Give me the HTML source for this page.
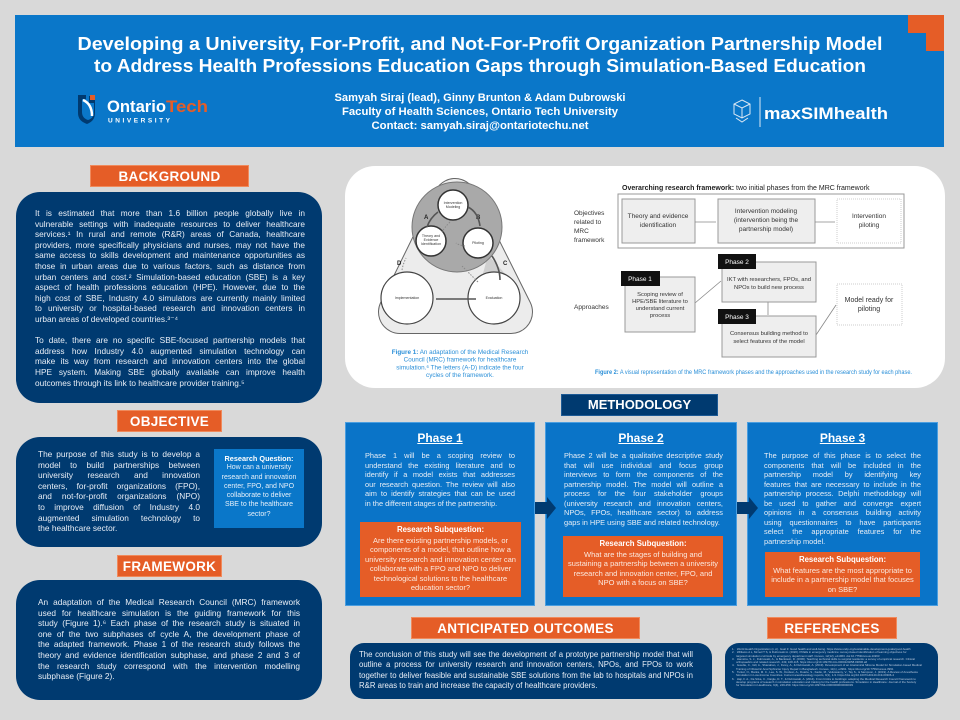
<!DOCTYPE html>
<html><head><meta charset="utf-8">
<style>
*{margin:0;padding:0;box-sizing:border-box}
body{width:960px;height:720px;background:#d9d9d9;position:relative;overflow:hidden;font-family:"Liberation Sans",sans-serif;color:#fff}
.a{position:absolute}
.hdr{left:15px;top:15px;width:929px;height:132px;background:#0a77c9}
.lab{background:#e55d27;color:#fff;font-weight:bold;text-align:center;font-size:13.5px;line-height:22px;letter-spacing:.3px;border:1px solid #f08a5c}
.nav{background:#003a70;border-radius:24px}
.t{position:absolute;font-size:8.3px;line-height:10.6px;color:#e8eef6}
.t div{height:10.6px;overflow:hidden;text-align:justify;text-align-last:justify}
.t div.e{text-align-last:left}
.ph{background:#0a74c8;border:1px solid #4a9ee0}
.ph h3{text-align:center;font-size:12px;text-decoration:underline;margin-top:8px;line-height:14px}
.pt{position:absolute;font-size:7.4px;line-height:9.5px;color:#e8eef6}
.pt div{height:9.5px;overflow:hidden;text-align:justify;text-align-last:justify}
.pt div.e{text-align-last:left}
.sq{position:absolute;background:#e55d27;text-align:center;font-size:7.5px;line-height:9.5px;color:#fbe9df}
.sq b{display:block;color:#fff;font-size:7.8px;margin:3px 0 1px}
</style></head><body>
<div class="a hdr"></div>
<div class="a" style="left:908px;top:15px;width:36px;height:18px;background:#e55d27"></div>
<div class="a" style="left:926px;top:33px;width:18px;height:18px;background:#e55d27"></div>
<svg class="a" style="left:0;top:0" width="960" height="150">
<text x="480" y="50" text-anchor="middle" font-family="Liberation Sans" font-weight="bold" font-size="18.5" fill="#fff" textLength="805" lengthAdjust="spacingAndGlyphs">Developing a University, For-Profit, and Not-For-Profit Organization Partnership Model</text>
<text x="480" y="72" text-anchor="middle" font-family="Liberation Sans" font-weight="bold" font-size="18.5" fill="#fff" textLength="772" lengthAdjust="spacingAndGlyphs">to Address Health Professions Education Gaps through Simulation-Based Education</text>
<text x="480" y="101" text-anchor="middle" font-family="Liberation Sans" font-weight="bold" font-size="11" fill="#fff" textLength="291" lengthAdjust="spacingAndGlyphs">Samyah Siraj (lead), Ginny Brunton &amp; Adam Dubrowski</text>
<text x="480" y="115" text-anchor="middle" font-family="Liberation Sans" font-weight="bold" font-size="11" fill="#fff" textLength="276" lengthAdjust="spacingAndGlyphs">Faculty of Health Sciences, Ontario Tech University</text>
<text x="480" y="129" text-anchor="middle" font-family="Liberation Sans" font-weight="bold" font-size="11" fill="#fff" textLength="217" lengthAdjust="spacingAndGlyphs">Contact: samyah.siraj@ontariotechu.net</text>
<path d="M78 95 H86 V99 H82 V112 Q82 118 88 120 Q94 118 94 112 V103 H89 V96 H95 V113 Q95 121 87 124 Q78 121 78 113Z" fill="#003a70"/>
<path d="M83 100 Q92 104 92 116" stroke="#fff" stroke-width="2.5" fill="none"/>
<rect x="90" y="95" width="5" height="5" fill="#e55d27"/>
<text x="107" y="112" font-family="Liberation Sans" font-weight="bold" font-size="17" fill="#fff" textLength="59" lengthAdjust="spacingAndGlyphs">Ontario</text>
<text x="166" y="112" font-family="Liberation Sans" font-weight="bold" font-size="17" fill="#e55d27" textLength="42" lengthAdjust="spacingAndGlyphs">Tech</text>
<text x="108" y="122.5" font-family="Liberation Sans" font-weight="bold" font-size="6.5" fill="#fff" textLength="62" lengthAdjust="spacing">UNIVERSITY</text>
<g stroke="#dce8f5" stroke-width="1" fill="none"><path d="M742 100 L750 104 L750 114 L742 118 L734 114 L734 104Z"/><path d="M734 104 L742 108 L750 104 M742 108 V118"/><path d="M736 118 L742 122 L748 118"/></g>
<line x1="760" y1="97" x2="760" y2="127" stroke="#dce8f5" stroke-width="1"/>
<text x="764" y="119" font-family="Liberation Sans" font-weight="bold" font-size="17" fill="#fff" textLength="124" lengthAdjust="spacingAndGlyphs">maxSIMhealth</text>
</svg>

<!-- BACKGROUND -->
<div class="a lab" style="left:90px;top:165px;width:159px;height:22px">BACKGROUND</div>
<div class="a nav" style="left:16px;top:192px;width:306px;height:211px"></div>
<div class="t" style="left:35px;top:208px;width:270px">
<div>It is estimated that more than 1.6 billion people globally live in</div>
<div>vulnerable settings with inadequate resources to deliver healthcare</div>
<div>services.¹ In rural and remote (R&amp;R) areas of Canada, healthcare</div>
<div>providers, more specifically physicians and nurses, may not have the</div>
<div>same access to skills development and maintenance opportunities as</div>
<div>those in urban areas due to various factors, such as distance from</div>
<div>urban centers and cost.² Simulation-based education (SBE) is a key</div>
<div>aspect of health professions education (HPE). However, due to the</div>
<div>high cost of SBE, Industry 4.0 simulators are currently mainly limited</div>
<div>to university or hospital-based research and innovation centers in</div>
<div class="e">urban areas of developed countries.³⁻⁴</div>
<div class="e"></div>
<div>To date, there are no specific SBE-focused partnership models that</div>
<div>address how Industry 4.0 augmented simulation technology can</div>
<div>make its way from research and innovation centers into the global</div>
<div>HPE system. Making SBE globally available can improve health</div>
<div class="e">outcomes through its link to healthcare provider training.⁵</div>
</div>

<!-- OBJECTIVE -->
<div class="a lab" style="left:117px;top:410px;width:105px;height:22px">OBJECTIVE</div>
<div class="a nav" style="left:16px;top:437px;width:306px;height:110px"></div>
<div class="t" style="left:38px;top:449px;width:162px">
<div>The purpose of this study is to develop a</div>
<div>model to build partnerships between</div>
<div>university research and innovation</div>
<div>centers, for-profit organizations (FPO),</div>
<div>and not-for-profit organizations (NPO)</div>
<div>to improve diffusion of Industry 4.0</div>
<div>augmented simulation technology to</div>
<div class="e">the healthcare sector.</div>
</div>
<div class="a" style="left:214px;top:449px;width:90px;height:79px;background:#0a77c9;text-align:center;font-size:7px;line-height:9.3px;color:#e6f0fa">
<div style="font-weight:bold;color:#fff;margin-top:5px;font-size:7.3px">Research Question:</div>
How can a university<br>research and innovation<br>center, FPO, and NPO<br>collaborate to deliver<br>SBE to the healthcare<br>sector?</div>

<!-- FRAMEWORK -->
<div class="a lab" style="left:117px;top:555px;width:105px;height:22px">FRAMEWORK</div>
<div class="a nav" style="left:16px;top:580px;width:306px;height:120px"></div>
<div class="t" style="left:38px;top:597px;width:262px">
<div>An adaptation of the Medical Research Council (MRC) framework</div>
<div>used for healthcare simulation is the guiding framework for this</div>
<div>study (Figure 1).⁶ Each phase of the research study is situated in</div>
<div>one of the two subphases of cycle A, the development phase of</div>
<div>the adapted framework. Phase 1 of the research study follows the</div>
<div>theory and evidence identification subphase, and phase 2 and 3 of</div>
<div>the research study correspond with the intervention modelling</div>
<div class="e">subphase (Figure 2).</div>
</div>

<!-- FIGURE PANEL -->
<div class="a" style="left:345px;top:166px;width:600px;height:222px;background:#fff;border-radius:30px"></div>
<svg class="a" style="left:0;top:0" width="960" height="400" font-family="Liberation Sans">
<polygon points="455,200 400,312 511,312" fill="#ececec" stroke="#666" stroke-width="44" stroke-linejoin="round"/>
<polygon points="455,200 400,312 511,312" fill="#ececec" stroke="#ececec" stroke-width="42" stroke-linejoin="round"/>
<polygon points="488,255 520,290 478,292" fill="#cfcfcf"/>
<circle cx="457" cy="227" r="45" fill="#a9a9a9" stroke="#777" stroke-width="1"/>
<circle cx="407" cy="298" r="26" fill="#fff" stroke="#444" stroke-width="1.2"/>
<circle cx="494" cy="298" r="26" fill="#fff" stroke="#444" stroke-width="1.2"/>
<circle cx="453" cy="205" r="15" fill="#fff" stroke="#333" stroke-width="1.5"/>
<circle cx="431" cy="241" r="15" fill="#fff" stroke="#333" stroke-width="1.5"/>
<circle cx="478" cy="243" r="15" fill="#fff" stroke="#333" stroke-width="1.5"/>
<g font-size="3.6" fill="#333" text-anchor="middle">
<text x="453" y="204">Intervention</text><text x="453" y="208">Modeling</text>
<text x="431" y="237">Theory and</text><text x="431" y="241">Evidence</text><text x="431" y="245">Identification</text>
<text x="478" y="244">Piloting</text>
<text x="407" y="299">Implementation</text><text x="494" y="299">Evaluation</text>
</g>
<g font-size="6" font-weight="bold" fill="#222"><text x="424" y="219">A</text><text x="476" y="219">B</text><text x="503" y="265">C</text><text x="397" y="265">D</text></g>
<g fill="none" stroke="#555" stroke-width="1.6"><path d="M468 207 Q478 212 480 226"/><path d="M492 256 Q500 268 500 280"/><path d="M476 299 L436 299"/><path d="M427 227 Q430 218 438 212"/></g>
<g fill="none" stroke="#888" stroke-width="1" stroke-dasharray="1.5,1.5"><path d="M450 222 Q444 228 442 232"/><path d="M465 246 Q458 245 456 243"/><path d="M478 282 Q468 272 462 266"/><path d="M402 270 Q403 264 406 258"/></g>
<g font-size="6.3" fill="#2a8fd8" text-anchor="middle">
<text x="460" y="354"><tspan font-weight="bold">Figure 1:</tspan> An adaptation of the Medical Research</text>
<text x="460" y="361.7">Council (MRC) framework for healthcare</text>
<text x="460" y="369.4">simulation.⁶ The letters (A-D) indicate the four</text>
<text x="460" y="377.1">cycles of the framework.</text>
</g>
<!-- figure 2 -->
<text x="622" y="190" font-size="7" fill="#222"><tspan font-weight="bold">Overarching research framework:</tspan> two initial phases from the MRC framework</text>
<rect x="618" y="194" width="286" height="54" fill="#fff" stroke="#999" stroke-width="1"/>
<rect x="622" y="199" width="73" height="44" fill="#eee" stroke="#999"/>
<rect x="718" y="199" width="97" height="44" fill="#eee" stroke="#999"/>
<rect x="837" y="199" width="64" height="44" fill="#fff" stroke="#ccc" stroke-dasharray="1,1"/>
<g stroke="#888" stroke-width=".8" fill="#888"><line x1="695" y1="222" x2="716" y2="222"/><line x1="815" y1="222" x2="835" y2="222"/>
<line x1="695" y1="303" x2="721" y2="281"/><line x1="768" y1="302" x2="768" y2="315"/><line x1="816" y1="335" x2="836" y2="305"/></g>
<g font-size="6.5" fill="#333" text-anchor="middle">
<text x="658" y="218">Theory and evidence</text><text x="658" y="227">identification</text>
<text x="766" y="213">Intervention modeling</text><text x="766" y="222">(intervention being the</text><text x="766" y="231">partnership model)</text>
<text x="869" y="218">Intervention</text><text x="869" y="227">piloting</text>
</g>
<g font-size="6.5" fill="#333"><text x="574" y="215">Objectives</text><text x="574" y="224">related to</text><text x="574" y="233">MRC</text><text x="574" y="242">framework</text><text x="574" y="309">Approaches</text></g>
<rect x="625" y="277" width="70" height="55" fill="#eee" stroke="#999"/>
<rect x="722" y="262" width="94" height="40" fill="#eee" stroke="#999"/>
<rect x="722" y="316" width="94" height="41" fill="#eee" stroke="#999"/>
<rect x="837" y="284" width="65" height="41" fill="#fff" stroke="#ccc" stroke-dasharray="1,1"/>
<rect x="621" y="271" width="39" height="15" fill="#111"/><rect x="718" y="254" width="38" height="15" fill="#111"/><rect x="718" y="309" width="38" height="15" fill="#111"/>
<g font-size="6.5" fill="#fff" text-anchor="middle"><text x="640" y="281">Phase 1</text><text x="737" y="264">Phase 2</text><text x="737" y="319">Phase 3</text></g>
<g font-size="5.8" fill="#333" text-anchor="middle">
<text x="660" y="296">Scoping review of</text><text x="660" y="303">HPE/SBE literature to</text><text x="660" y="310">understand current</text><text x="660" y="317">process</text>
<text x="769" y="281">IKT with researchers, FPOs, and</text><text x="769" y="289">NPOs to build new process</text>
<text x="769" y="335">Consensus building method to</text><text x="769" y="343">select features of the model</text>
</g>
<g font-size="7" fill="#333" text-anchor="middle"><text x="869" y="302">Model ready for</text><text x="869" y="311">piloting</text></g>
<text x="595" y="374" font-size="6.1" fill="#2a8fd8" textLength="317" lengthAdjust="spacingAndGlyphs"><tspan font-weight="bold">Figure 2:</tspan> A visual representation of the MRC framework phases and the approaches used in the research study for each phase.</text>
</svg>

<!-- METHODOLOGY -->
<div class="a" style="left:561px;top:394px;width:157px;height:22px;background:#003a70;border:1px solid #1d5a95;text-align:center;font-weight:bold;font-size:13px;line-height:20px">METHODOLOGY</div>
<div class="a ph" style="left:345px;top:422px;width:190px;height:184px"><h3>Phase 1</h3></div>
<div class="a ph" style="left:545px;top:422px;width:192px;height:184px"><h3>Phase 2</h3></div>
<div class="a ph" style="left:747px;top:422px;width:191px;height:184px"><h3>Phase 3</h3></div>
<svg class="a" style="left:0;top:0" width="960" height="720">
<polygon points="535,502 547,502 547,497 556,508 547,519 547,514 535,514" fill="#003a70"/>
<polygon points="737,502 749,502 749,497 758,508 749,519 749,514 737,514" fill="#003a70"/>
</svg>
<div class="pt" style="left:365px;top:451px;width:150px">
<div>Phase 1 will be a scoping review to</div>
<div>understand the existing literature and to</div>
<div>identify if a model exists that addresses</div>
<div>our research question. The review will also</div>
<div>aim to identify strategies that can be used</div>
<div class="e">in the different stages of the partnership.</div>
</div>
<div class="pt" style="left:564px;top:451px;width:159px">
<div>Phase 2 will be a qualitative descriptive study</div>
<div>that will use individual and focus group</div>
<div>interviews to form the components of the</div>
<div>partnership model. The model will outline a</div>
<div>process for the four stakeholder groups</div>
<div>(university research and innovation centers,</div>
<div>NPOs, FPOs, healthcare sector) to address</div>
<div class="e">gaps in HPE using SBE and related technology.</div>
</div>
<div class="pt" style="left:764px;top:451px;width:157px">
<div>The purpose of this phase is to select the</div>
<div>components that will be included in the</div>
<div>partnership model by identifying key</div>
<div>features that are necessary to include in the</div>
<div>partnership process. Delphi methodology will</div>
<div>be used to gather and converge expert</div>
<div>opinions in a consensus building activity</div>
<div>using questionnaires to have participants</div>
<div>select the appropriate features for the</div>
<div class="e">partnership model.</div>
</div>
<div class="sq" style="left:360px;top:522px;width:161px;height:75px"><b>Research Subquestion:</b>Are there existing partnership models, or<br>components of a model, that outline how a<br>university research and innovation center can<br>collaborate with a FPO and NPO to deliver<br>technological solutions to the healthcare<br>education sector?</div>
<div class="sq" style="left:563px;top:536px;width:160px;height:61px"><b>Research Subquestion:</b>What are the stages of building and<br>sustaining a partnership between a university<br>research and innovation center, FPO, and<br>NPO with a focus on SBE?</div>
<div class="sq" style="left:765px;top:552px;width:155px;height:45px"><b>Research Subquestion:</b>What features are the most appropriate to<br>include in a partnership model that focuses<br>on SBE?</div>

<!-- OUTCOMES -->
<div class="a lab" style="left:411px;top:617px;width:229px;height:22px">ANTICIPATED OUTCOMES</div>
<div class="a nav" style="left:350px;top:643px;width:362px;height:56px;border-radius:14px"></div>
<div class="t" style="left:359px;top:650px;width:334px;font-size:7.8px;line-height:10.3px">
<div style="height:10.3px">The conclusion of this study will see the development of a prototype partnership model that will</div>
<div style="height:10.3px">outline a process for university research and innovation centers, NPOs, and FPOs to work</div>
<div style="height:10.3px">together to deliver feasible and sustainable SBE solutions from the lab to hospitals and NPOs in</div>
<div class="e" style="height:10.3px">R&amp;R areas to train and increase the capacity of healthcare providers.</div>
</div>
<div class="a lab" style="left:767px;top:617px;width:130px;height:22px">REFERENCES</div>
<div class="a nav" style="left:725px;top:643px;width:213px;height:56px;border-radius:14px"></div>
<div class="a" style="left:732px;top:648px;width:200px;font-size:2.9px;line-height:3.3px;color:#b8c8dc;white-space:nowrap;overflow:hidden">
1.&nbsp;&nbsp;&nbsp;World Health Organization (n.d.). Goal 3: Good health and well-being. https://www.undp.org/sustainable-development-goals/good-health<br>
2.&nbsp;&nbsp;&nbsp;Williams A L, Mcneil T S, &amp; Dubrowski A. (2020). Pitfalls in emergency medicine: survey-based identification of learning objectives for<br>
&nbsp;&nbsp;&nbsp;&nbsp;&nbsp;targeted simulation curricula by emergency department staff. Cureus, 12(12), e11963. doi:10.7759/cureus.11963<br>
3.&nbsp;&nbsp;&nbsp;Hamstra, S. J., Dubrowski, A., &amp; Backstein, D. (2006). Teaching technical skills to surgical residents: a survey of empirical research. Clinical<br>
&nbsp;&nbsp;&nbsp;&nbsp;&nbsp;orthopaedics and related research, 449, 108-115. https://doi.org/10.1097/01.blo.0000224058.03806.a6<br>
4.&nbsp;&nbsp;&nbsp;Goudie, C., Gill, A., Shanahan, J., Furey, A., &amp; Dubrowski, A. (2019). Development of an Anatomical Silicone Model for Simulation-based Medical<br>
&nbsp;&nbsp;&nbsp;&nbsp;&nbsp;Training of Obstetric Anal Sphincter Injury Repair in Bangladesh. Cureus, 11(1), e3991. https://doi.org/10.7759/cureus.3991<br>
5.&nbsp;&nbsp;&nbsp;Turkot, O., Banks, M. C., Lee, S. W., Dodson, A., Duarte, S., Kadio, M., Veluswamy, V., Tay S., &amp; Sampson, J. (2019). A Review of Anesthesia<br>
&nbsp;&nbsp;&nbsp;&nbsp;&nbsp;Simulation in Low-Income Countries. Current anesthesiology reports, 9(1), 1-9. https://doi.org/10.1007/s40140-019-00306-4<br>
6.&nbsp;&nbsp;&nbsp;Haji, F. A., Da Silva, C., Daigle, D. T., &amp; Dubrowski, A. (2014). From bricks to buildings: adapting the Medical Research Council framework to<br>
&nbsp;&nbsp;&nbsp;&nbsp;&nbsp;develop programs of research in simulation education and training for the health professions. Simulation in Healthcare: Journal of the Society<br>
&nbsp;&nbsp;&nbsp;&nbsp;&nbsp;for Simulation in Healthcare, 9(4), 249-259. https://doi.org/10.1097/SIH.0000000000000039
</div>
</body></html>
